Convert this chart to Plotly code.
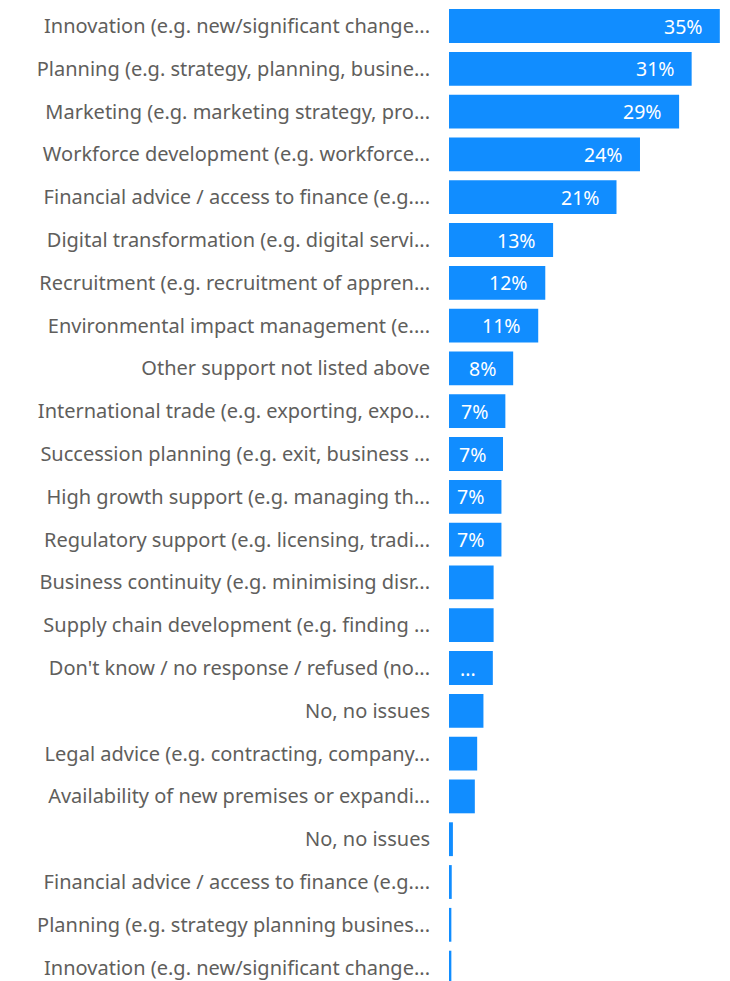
import plotly.graph_objects as go

# Support areas (labels are shown truncated, as on the dashboard)
categories = [
    "Innovation (e.g. new/significant change...",
    "Planning (e.g. strategy, planning, busine...",
    "Marketing (e.g. marketing strategy, pro...",
    "Workforce development (e.g. workforce...",
    "Financial advice / access to finance (e.g....",
    "Digital transformation (e.g. digital servi...",
    "Recruitment (e.g. recruitment of appren...",
    "Environmental impact management (e....",
    "Other support not listed above",
    "International trade (e.g. exporting, expo...",
    "Succession planning (e.g. exit, business ...",
    "High growth support (e.g. managing th...",
    "Regulatory support (e.g. licensing, tradi...",
    "Business continuity (e.g. minimising disr...",
    "Supply chain development (e.g. finding ...",
    "Don't know / no response / refused (no...",
    "No, no issues",
    "Legal advice (e.g. contracting, company...",
    "Availability of new premises or expandi...",
    "No, no issues",
    "Financial advice / access to finance (e.g....",
    "Planning (e.g. strategy planning busines...",
    "Innovation (e.g. new/significant change...",
]

# Share of respondents, percent
values = [
    34.6, 31.0, 29.4, 24.4, 21.4, 13.3, 12.3, 11.4, 8.2, 7.2, 6.9, 6.7, 6.7,
    5.7, 5.7, 5.6, 4.4, 3.6, 3.3, 0.5, 0.35, 0.3, 0.3,
]

# Rows whose data label is too long for the bar and gets elided
elided_rows = [15]

BAR_COLOR = "#118DFF"
TEXT_COLOR = "#605E5C"
FONT = "Noto Sans"

positions = list(range(len(categories)))

fig = go.Figure(
    go.Bar(
        x=values,
        y=positions,
        orientation="h",
        marker=dict(color=BAR_COLOR, line=dict(width=0)),
        width=0.79,
        hoverinfo="skip",
    )
)

# Data labels inside the bar ends
for i, v in enumerate(values):
    if round(v) >= 7:
        txt = f"{round(v)}%"
    elif i in elided_rows:
        txt = "..."
    else:
        continue
    fig.add_annotation(
        x=v, y=i, xref="x", yref="y",
        text=txt, showarrow=False,
        xanchor="right", xshift=-15,
        font=dict(family=FONT, size=19.5, color="white"),
    )

fig.update_layout(
    width=730,
    height=981,
    margin=dict(l=449, r=0, t=0, b=0),
    paper_bgcolor="white",
    plot_bgcolor="white",
    showlegend=False,
    xaxis=dict(
        range=[0, 35.9],
        visible=False,
        fixedrange=True,
    ),
    yaxis=dict(
        range=[22.313, -0.6075],
        tickmode="array",
        tickvals=positions,
        ticktext=categories,
        showgrid=False,
        zeroline=False,
        showline=False,
        ticks="",
        ticklabelstandoff=18,
        tickfont=dict(family=FONT, size=20, color=TEXT_COLOR),
        fixedrange=True,
    ),
)

fig.write_html("out.html", config={"displayModeBar": False})
